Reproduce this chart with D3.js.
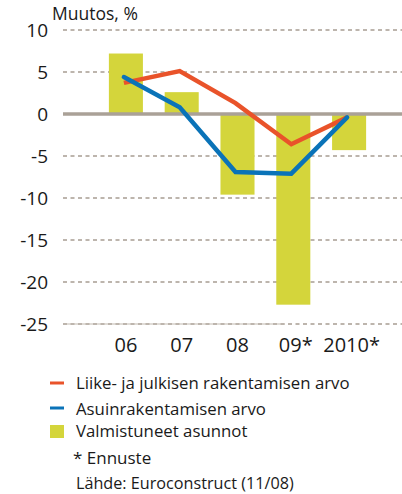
<!DOCTYPE html>
<html><head><meta charset="utf-8">
<script src="https://cdn.jsdelivr.net/npm/d3@7"></script>
<style>body{margin:0;background:#fff}svg{display:block;font-family:"Open Sans",sans-serif}</style>
</head><body><svg id="c" width="402" height="494"></svg>
<script>
const categories = ["06","07","08","09*","2010*"];
const liikeValues = [3.7, 5.1, 1.3, -3.6, -0.4];
const asuinValues = [4.4, 0.8, -6.9, -7.1, -0.4];
const valmistuneetValues = [7.2, 2.6, -9.6, -22.7, -4.3];
const yTicks = [10, 5, 0, -5, -10, -15, -20, -25];
const legendItems = ["Liike- ja julkisen rakentamisen arvo","Asuinrakentamisen arvo","Valmistuneet asunnot"];

const svg = d3.select("#c");
const x = d3.scaleBand().domain(categories).range([98, 377]).paddingInner(0.39).paddingOuter(0.195);
const y = d3.scaleLinear().domain([-25, 10]).range([324, 30]);
const gridL = 63, gridR = 402;

// faint solid underline at -25
svg.append("line").attr("x1", gridL).attr("x2", 285).attr("y1", y(-25)).attr("y2", y(-25))
  .attr("stroke", "#d6d0ca").attr("stroke-width", 1.5);
// dashed grid
svg.selectAll("line.grid").data(yTicks.filter(d => d !== 0)).join("line").attr("class","grid")
  .attr("x1", gridL).attr("x2", gridR).attr("y1", d => y(d)).attr("y2", d => y(d))
  .attr("stroke", "#bdb5ad").attr("stroke-width", 1.8).attr("stroke-dasharray", "4,3.5");

// bars
svg.selectAll("rect.bar").data(valmistuneetValues).join("rect").attr("class","bar")
  .attr("x", (d,i) => x(categories[i])).attr("width", x.bandwidth())
  .attr("y", d => y(Math.max(0,d))).attr("height", d => Math.abs(y(d) - y(0)))
  .attr("fill", "#d4d53b");

// zero line
svg.append("line").attr("x1", gridL).attr("x2", gridR).attr("y1", y(0)).attr("y2", y(0))
  .attr("stroke", "#aaa197").attr("stroke-width", 3.3);

// y axis labels
const yAxis = d3.axisLeft(y).tickValues(yTicks).tickSize(0).tickPadding(0).tickFormat(d3.format("d"));
const ga = svg.append("g").attr("transform", "translate(48,0)").call(yAxis);
ga.select(".domain").remove();
ga.selectAll("text").attr("font-size", 19).attr("fill", "#1a1a1a").attr("font-family", "'Open Sans',sans-serif")
  .attr("dy", null).attr("y", 6.5).text(d => d < 0 ? "-" + Math.abs(d) : d);

// x axis labels
const xAxis = d3.axisBottom(x).tickSize(0).tickPadding(0);
const gx = svg.append("g").attr("transform", "translate(0,352)").call(xAxis);
gx.select(".domain").remove();
gx.selectAll("text").attr("font-size", 20).attr("fill", "#1a1a1a").attr("font-family", "'Open Sans',sans-serif")
  .attr("dy", null).attr("y", 0).attr("x", (d,i) => i >= 3 ? 2.5 : 0);

// lines
const line = d3.line().x((d,i) => x(categories[i]) + x.bandwidth()/2 - 2).y(d => y(d));
svg.append("path").datum(liikeValues).attr("d", line).attr("fill","none")
  .attr("stroke", "#e9532a").attr("stroke-width", 4.5).attr("stroke-linejoin","miter");
svg.append("path").datum(asuinValues).attr("d", line).attr("fill","none")
  .attr("stroke", "#0a73b8").attr("stroke-width", 4.5).attr("stroke-linejoin","miter").attr("stroke-linecap","round");

// title
svg.append("text").attr("x", 52).attr("y", 20).attr("font-size", 17.5).attr("fill", "#1a1a1a").text("Muutos, %");

// legend
const lg = svg.append("g");
const legendY = [383, 408, 431];
lg.append("line").attr("x1",50).attr("x2",64).attr("y1",legendY[0]).attr("y2",legendY[0]).attr("stroke","#e9532a").attr("stroke-width",3);
lg.append("line").attr("x1",50).attr("x2",64).attr("y1",legendY[1]).attr("y2",legendY[1]).attr("stroke","#0a73b8").attr("stroke-width",3);
lg.append("rect").attr("x",50).attr("y",425).attr("width",14).attr("height",13).attr("fill","#d4d53b");
lg.selectAll("text.li").data(legendItems).join("text").attr("class","li")
  .attr("x", 76).attr("y", (d,i) => [389, 415, 437][i]).attr("font-size", 16.8).attr("fill","#1a1a1a").text(d => d);
svg.append("text").attr("x", 73).attr("y", 464).attr("font-size", 17).attr("fill","#1a1a1a").text("* Ennuste");
svg.append("text").attr("x", 76).attr("y", 489).attr("font-size", 16.2).attr("fill","#1a1a1a").text("Lähde: Euroconstruct (11/08)");
</script></body></html>
